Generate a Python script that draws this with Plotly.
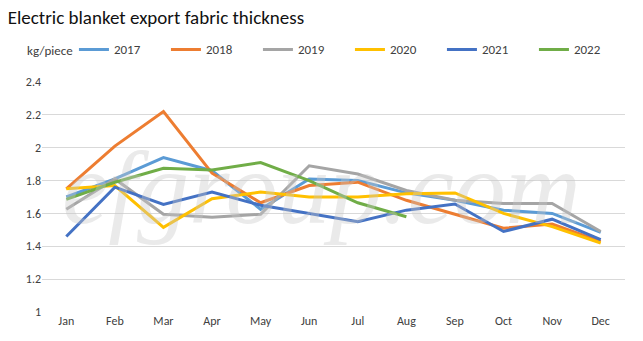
import plotly.graph_objects as go

months = ["Jan", "Feb", "Mar", "Apr", "May", "Jun", "Jul", "Aug", "Sep", "Oct", "Nov", "Dec"]

y2017 = [1.70, 1.81, 1.94, 1.86, 1.625, 1.81, 1.80, 1.725, 1.68, 1.62, 1.60, 1.485]
y2018 = [1.75, 2.01, 2.22, 1.845, 1.665, 1.77, 1.79, 1.68, 1.595, 1.51, 1.535, 1.43]
y2019 = [1.625, 1.81, 1.595, 1.576, 1.595, 1.89, 1.84, 1.74, 1.68, 1.66, 1.66, 1.49]
y2020 = [1.75, 1.77, 1.515, 1.69, 1.73, 1.70, 1.70, 1.72, 1.725, 1.60, 1.52, 1.42]
y2021 = [1.46, 1.76, 1.655, 1.73, 1.65, 1.60, 1.55, 1.62, 1.657, 1.49, 1.565, 1.44]
y2022 = [1.686, 1.79, 1.875, 1.864, 1.91, 1.80, 1.665, 1.58]

series = [
    ("2017", y2017, "#5B9BD5"),
    ("2018", y2018, "#ED7D31"),
    ("2019", y2019, "#A5A5A5"),
    ("2020", y2020, "#FFC000"),
    ("2021", y2021, "#4472C4"),
    ("2022", y2022, "#70AD47"),
]

FONT = "Carlito, Calibri, 'Liberation Sans Narrow', 'Open Sans', sans-serif"

fig = go.Figure()
for name, vals, color in series:
    fig.add_trace(go.Scatter(
        x=months[:len(vals)], y=vals, name=name, mode="lines",
        line=dict(color=color, width=3),
    ))

fig.update_layout(
    width=643, height=341,
    margin=dict(l=42, r=18, t=82, b=29, autoexpand=False),
    paper_bgcolor="white", plot_bgcolor="white",
    font=dict(family=FONT, size=12, color="#404040"),
    title=dict(text="Electric blanket export fabric thickness",
               x=0.012, xanchor="left", y=0.948, yanchor="middle",
               font=dict(family=FONT, size=19, color="#111111")),
    showlegend=True,
    legend=dict(orientation="h", xref="container", yref="container",
                x=0.115, y=0.855, xanchor="left", yanchor="middle",
                entrywidth=47, entrywidthmode="pixels",
                font=dict(family=FONT, size=13, color="#404040"),
                bgcolor="rgba(0,0,0,0)"),
    xaxis=dict(type="category", showgrid=False, showline=False, ticks="",
               tickfont=dict(size=12, color="#404040"), range=[-0.5, 11.5]),
    yaxis=dict(range=[1, 2.4], dtick=0.2, tickformat="~g",
               showgrid=True, gridcolor="#D9D9D9", gridwidth=1,
               zeroline=False, showline=False, ticks="",
               tickfont=dict(size=12, color="#404040")),
)

fig.add_annotation(text="kg/piece", xref="paper", yref="paper",
                   x=0.014, y=1.139, xanchor="center", yanchor="middle",
                   showarrow=False, font=dict(family=FONT, size=13, color="#404040"))

# faint watermark across the plotting area
fig.add_annotation(text="efgroup.com", xref="paper", yref="paper",
                   x=0.48, y=0.54, xanchor="center", yanchor="middle",
                   showarrow=False,
                   font=dict(family="'Liberation Serif', serif", size=104,
                             style="italic", color="rgba(200,200,200,0.38)"))

fig.write_html("out.html")
